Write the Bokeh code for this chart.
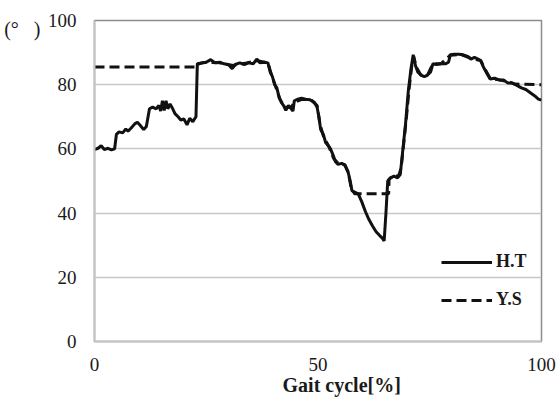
from bokeh.plotting import figure
from bokeh.models import Legend, LegendItem, FixedTicker, Range1d, LinearAxis
from bokeh.embed import file_html
from bokeh.resources import INLINE

# Joint angle over one gait cycle for two subjects
ht_x = [0, 0.8, 1.5, 2.2, 3.0, 3.8, 4.5, 4.9, 5.5, 6.3, 7.0, 7.5, 8.2, 9.0, 9.6,
        10.3, 11.0, 11.6, 12.3, 13.0, 13.8, 14.4, 14.8, 15.2, 15.6, 16.0, 16.4,
        16.9, 17.5, 18.0, 18.7, 19.3, 20.0, 20.7, 21.3, 22.0, 22.7, 23.0, 24.0,
        25.0, 26.0, 27.0, 28.0, 29.0, 30.0, 30.8, 31.5, 32.5, 33.5, 34.5, 35.5,
        36.3, 37.0, 38.0, 38.8, 39.3, 39.8, 40.3, 40.8, 41.3, 41.8, 42.3, 42.8,
        43.4, 44.0, 44.4, 44.7, 45.5, 46.3, 47.2, 48.2, 49.2, 49.8, 50.2, 50.6,
        51.2, 51.7, 52.3, 52.8, 53.4, 53.9, 54.5, 55.3, 56.0, 56.7, 57.2, 57.6,
        58.2, 59.0, 59.8, 60.6, 61.4, 62.2, 63.0, 63.8, 64.4, 64.8, 65.2, 65.6,
        66.2, 67.0, 67.8, 68.4, 69.0, 69.6, 70.2, 70.8, 71.3, 71.8, 72.3, 73.0,
        73.8, 74.5, 75.2, 75.7, 76.5, 77.5, 78.5, 79.2, 79.6, 80.5, 81.5, 82.5,
        83.5, 84.2, 85.0, 85.8, 86.4, 87.0, 87.8, 88.5, 89.5, 90.5, 91.5, 92.5,
        93.5, 94.5, 95.5, 96.5, 97.5, 98.5, 99.3, 100]
ht_y = [59.8, 60.2, 61.0, 59.8, 60.2, 59.7, 60.0, 64.5, 65.3, 65.0, 66.2, 65.5,
        66.5, 67.8, 68.3, 67.2, 66.0, 67.0, 72.5, 73.0, 72.5, 73.5, 71.8, 75.0,
        72.0, 75.0, 72.5, 74.0, 72.5, 71.0, 70.0, 69.0, 69.3, 67.5, 69.5, 68.5,
        70.0, 86.3, 86.8, 87.0, 87.8, 86.8, 87.0, 86.5, 86.2, 85.0, 86.3, 86.8,
        86.3, 86.8, 86.5, 88.0, 86.8, 87.0, 86.8, 84.0, 82.5, 80.0, 79.0, 76.0,
        74.5, 73.5, 72.0, 73.5, 72.5, 71.8, 75.0, 75.5, 75.8, 75.5, 75.3, 74.5,
        73.0, 70.0, 66.0, 64.5, 62.0, 61.0, 60.0, 58.0, 56.0, 55.2, 55.5, 55.0,
        53.0, 50.0, 47.0, 46.5, 46.0, 43.5, 40.5, 38.0, 36.0, 34.2, 33.0, 32.2,
        31.3, 40.0, 50.0, 51.0, 51.5, 51.0, 52.0, 60.0, 68.0, 78.0, 85.0, 89.3,
        86.0, 84.0, 83.0, 82.5, 83.0, 84.0, 86.5, 86.3, 86.5, 86.5, 87.0, 89.3,
        89.5, 89.5, 89.3, 88.8, 88.0, 88.5, 88.0, 87.5, 85.5, 83.5, 81.8, 82.0,
        81.5, 81.5, 80.5, 80.5, 79.8, 79.0, 78.5, 77.5, 76.5, 75.5, 75.2]

ys_x = [0, 22.9, 23.0, 25.0, 28.0, 31.0, 34.0, 36.5, 38.8, 39.5, 40.5, 41.5,
        42.5, 44.0, 44.7, 46.5, 48.5, 49.8, 50.4, 51.2, 52.5, 53.5, 54.5, 56.0,
        56.8, 57.4, 58.2, 65.8, 65.9, 67.0, 68.0, 68.6, 69.2, 69.8, 70.4, 71.0,
        71.4, 72.0, 73.0, 74.5, 75.7, 77.5, 79.6, 82.0, 84.2, 86.4, 87.5, 88.5,
        90.5, 92.5, 94.0, 100]
ys_y = [85.5, 85.5, 86.5, 87.0, 86.8, 86.0, 86.8, 87.5, 86.8, 83.5, 79.5, 75.5,
        73.0, 73.0, 74.5, 75.5, 75.2, 73.5, 68.0, 64.0, 60.5, 57.0, 55.5, 55.0,
        52.5, 48.0, 46.0, 46.0, 50.5, 51.8, 51.5, 54.0, 62.0, 70.0, 79.0, 86.0,
        88.8, 85.5, 83.0, 83.0, 86.5, 86.5, 89.2, 89.4, 88.2, 87.5, 84.5, 82.0,
        81.5, 81.0, 80.2, 80.0]

y_ticks = [0, 20, 40, 60, 80, 100]
x_ticks = [0, 50, 100]
unit_text = "(°\u00a0\u00a0 )"
x_title = "Gait cycle[%]"

SERIF = "Liberation Serif"
INK = "#1a1a1a"

p = figure(width=558, height=398, output_backend="svg", toolbar_location=None,
           x_range=Range1d(0, 100), y_range=Range1d(0, 100),
           min_border_left=94, min_border_right=17, min_border_top=20,
           min_border_bottom=57)

line_ht = p.line(ht_x, ht_y, line_color="#111111", line_width=3)
line_ys = p.line(ys_x, ys_y, line_color="#111111", line_width=3,
                 line_dash="10 5")


def bare(ax):
    ax.major_tick_line_color = None
    ax.minor_tick_line_color = None
    ax.major_tick_out = 0
    ax.major_tick_in = 0
    ax.minor_tick_out = 0
    ax.minor_tick_in = 0
    ax.major_label_text_font = SERIF
    ax.major_label_text_color = INK


p.xaxis.ticker = FixedTicker(ticks=x_ticks)
p.yaxis.ticker = FixedTicker(ticks=y_ticks)
for ax in (p.xaxis[0], p.yaxis[0]):
    bare(ax)
    ax.axis_line_color = "#c4c4c4"
    ax.axis_line_width = 2
    ax.major_label_text_font_size = "19px"
p.yaxis.major_label_standoff = 18
p.xaxis.major_label_standoff = 16

# unit marker beside the top of the y axis
unit_axis = LinearAxis(ticker=FixedTicker(ticks=[97.5]),
                       major_label_overrides={97.5: unit_text},
                       axis_line_color=None, major_label_standoff=4,
                       major_label_text_font_size="20px")
bare(unit_axis)
p.add_layout(unit_axis, "left")

# x axis title, centred a little right of the frame middle
title_axis = LinearAxis(ticker=FixedTicker(ticks=[55.3]),
                        major_label_overrides={55.3: x_title},
                        axis_line_color=None, major_label_standoff=0,
                        major_label_text_font_size="20px",
                        major_label_text_font_style="bold")
bare(title_axis)
p.add_layout(title_axis, "below")

p.xgrid.grid_line_color = None
p.ygrid.grid_line_color = "#c8c8c8"
p.ygrid.grid_line_width = 1.5
p.outline_line_color = "#8c8c8c"
p.outline_line_width = 1.5

legend = Legend(items=[LegendItem(label="H.T", renderers=[line_ht]),
                       LegendItem(label="Y.S", renderers=[line_ys])],
                location=(347, 31), glyph_width=51, label_standoff=4,
                spacing=17, label_text_font=SERIF, label_text_font_size="18px",
                label_text_font_style="bold", label_text_color=INK,
                border_line_alpha=0, background_fill_alpha=0, padding=0,
                margin=0)
p.add_layout(legend)

open("out.html", "w").write(file_html(p, INLINE))
